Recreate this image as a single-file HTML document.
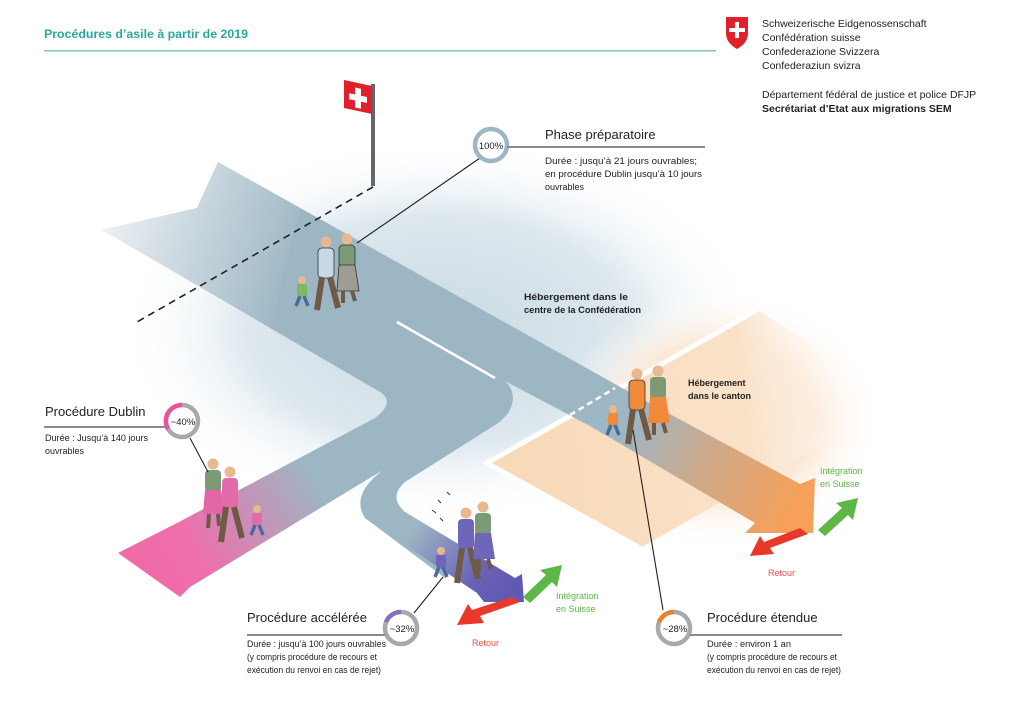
<!DOCTYPE html>
<html><head><meta charset="utf-8"><style>
html,body{margin:0;padding:0;background:#fff}
svg{display:block}
text{font-family:"Liberation Sans",sans-serif}
</style></head><body>
<svg width="1024" height="704" viewBox="0 0 1024 704" xmlns="http://www.w3.org/2000/svg">
<defs>
<radialGradient id="haze" cx="0.5" cy="0.5" r="0.5">
<stop offset="0" stop-color="#c9d9e2"/><stop offset="0.6" stop-color="#dde8ee"/><stop offset="1" stop-color="#ffffff" stop-opacity="0"/></radialGradient>
<radialGradient id="ohaze" cx="0.5" cy="0.5" r="0.5">
<stop offset="0" stop-color="#f8dcc0"/><stop offset="0.6" stop-color="#fbe9d8"/><stop offset="1" stop-color="#ffffff" stop-opacity="0"/></radialGradient>
<linearGradient id="gPink" x1="383" y1="430" x2="140" y2="570" gradientUnits="userSpaceOnUse">
<stop offset="0.3" stop-color="#9db6c4"/><stop offset="0.8" stop-color="#ee6fab"/><stop offset="1" stop-color="#f06aa8"/></linearGradient>
<linearGradient id="gPurp" x1="400" y1="500" x2="510" y2="590" gradientUnits="userSpaceOnUse">
<stop offset="0.2" stop-color="#9db6c4"/><stop offset="0.75" stop-color="#6a62b5"/><stop offset="1" stop-color="#6158b3"/></linearGradient>
<linearGradient id="gOr" x1="600" y1="410" x2="790" y2="515" gradientUnits="userSpaceOnUse">
<stop offset="0.15" stop-color="#9db6c4"/><stop offset="0.55" stop-color="#cfa98a"/><stop offset="1" stop-color="#f6a05a"/></linearGradient>
<linearGradient id="gDia" x1="490" y1="460" x2="860" y2="420" gradientUnits="userSpaceOnUse">
<stop offset="0" stop-color="#f8d8b6"/><stop offset="0.7" stop-color="#fae2c9"/><stop offset="1" stop-color="#ffffff" stop-opacity="0"/></linearGradient>
<linearGradient id="tailFade" x1="100" y1="200" x2="300" y2="260" gradientUnits="userSpaceOnUse">
<stop offset="0" stop-color="#fff" stop-opacity="0.85"/><stop offset="1" stop-color="#fff" stop-opacity="0"/></linearGradient>
</defs>

<!-- header -->
<text x="44" y="38" font-size="12" font-weight="bold" fill="#2aa8a0" textLength="204" lengthAdjust="spacingAndGlyphs">Procédures d’asile à partir de 2019</text>
<rect x="44" y="50" width="672" height="1.5" fill="#7ec8bf"/>
<path d="M726,17 h22 v16 q0,10 -11,16 q-11,-6 -11,-16 z" fill="#e0202a"/>
<rect x="735" y="22" width="4" height="16" fill="#fff"/><rect x="729" y="28" width="16" height="4" fill="#fff"/>
<g font-size="10.5" fill="#222">
<text x="762" y="27">Schweizerische Eidgenossenschaft</text>
<text x="762" y="41">Confédération suisse</text>
<text x="762" y="55">Confederazione Svizzera</text>
<text x="762" y="69">Confederaziun svizra</text>
<text x="762" y="98">Département fédéral de justice et police DFJP</text>
<text x="762" y="112" font-weight="bold">Secrétariat d’Etat aux migrations SEM</text>
</g>

<!-- haze -->
<ellipse cx="440" cy="330" rx="320" ry="190" fill="url(#haze)"/>
<ellipse cx="720" cy="420" rx="160" ry="130" fill="url(#ohaze)"/>
<!-- orange diamond -->
<polygon points="487,463 757,310 900,400 640,548" fill="url(#gDia)"/>
<polyline points="640,548 487,463 757,310" fill="none" stroke="#fff" stroke-width="5"/>

<!-- main blue band -->
<path d="M218,162 L640,398 L590,426 L505,381 C520,395 512,415 495,425 L405,482 Q388,497 405,512 L470,552 L445,578 L365,518 Q350,495 383,470 L250,548 L222,522 L375,418 Q396,402 380,392 L102,230 L197,208 Z" fill="#9db6c4"/>
<path d="M218,162 L300,208 L270,330 L102,230 L197,208 Z" fill="url(#tailFade)"/>
<!-- dublin -->
<path d="M375,418 L383,470 L190,587 L180,597 L118,553 L177,523 Z" fill="url(#gPink)"/>
<!-- accelerated -->
<path d="M405,512 L515,578 L522,574 L524,602 L484,602 L477,593 L365,518 Q360,512 375,500 Z" fill="url(#gPurp)"/>
<!-- orange arrow -->
<path d="M640,398 L800,484 L815,478 L813,533 L745,533 L755,523 L590,426 Z" fill="url(#gOr)"/>

<!-- lane lines -->
<line x1="397" y1="322" x2="495" y2="378" stroke="#fff" stroke-width="2.5"/>
<line x1="570" y1="415" x2="615" y2="388" stroke="#fff" stroke-width="2.5" stroke-dasharray="6,4"/>

<!-- small arrows -->
<polygon points="818,530 842,508 836,503 858,498 853,520 848,515 825,536" fill="#5db746"/>
<polygon points="808,534 770,548 774,554 750,556 760,536 764,542 800,528" fill="#e8382c"/>
<polygon points="523,597 546,575 540,570 562,565 557,587 552,582 530,603" fill="#5db746"/>
<polygon points="520,602 480,616 484,623 457,625 468,604 472,610 512,597" fill="#e8382c"/>

<!-- flag -->
<rect x="371" y="84" width="4" height="102" fill="#666"/>
<polygon points="344,80 372,86 372,114 344,108" fill="#e0202a"/>
<rect x="355" y="86" width="6" height="20" fill="#fff" transform="skewY(12) translate(0,-74)"/>
<rect x="349" y="93" width="18" height="6" fill="#fff" transform="skewY(12) translate(0,-74)"/>
<line x1="373" y1="187" x2="137" y2="322" stroke="#222" stroke-width="1.6" stroke-dasharray="7,5"/>

<!-- people groups -->
<g>
<g transform="translate(326,236)"><circle cx="0" cy="6" r="5.5" fill="#e8b890"/><rect x="-8" y="12" width="16" height="30" rx="4" fill="#c9d8e6" stroke="#333" stroke-width="0.8"/><path d="M-4,41 L-9,74 M4,41 L12,72" stroke="#6e5a45" stroke-width="6"/></g>
<g transform="translate(347,233)"><circle cx="0" cy="6" r="5.5" fill="#e8b890"/><rect x="-8" y="12" width="16" height="22" rx="4" fill="#7c9a76" stroke="#333" stroke-width="0.8"/><path d="M-8,32 L8,32 L12,58 L-10,58 Z" fill="#9e9d93" stroke="#333" stroke-width="0.8"/><path d="M-4,58 L-4,70 M5,58 L8,68" stroke="#6e5a45" stroke-width="4"/></g>
<g transform="translate(302,276)"><circle cx="0" cy="4" r="4" fill="#e8b890"/><rect x="-5" y="8" width="10" height="12" rx="2" fill="#7fb860"/><path d="M-2,20 L-6,30 M2,20 L6,30" stroke="#4a6b9a" stroke-width="3.5"/></g>
</g>
<g>
<g transform="translate(213,458)"><circle cx="0" cy="6" r="5.5" fill="#e8b890"/><rect x="-8" y="12" width="16" height="22" rx="4" fill="#7c9a76"/><path d="M-8,32 L8,32 L12,56 L-10,56 Z" fill="#e266a8"/><path d="M-4,56 L-5,70 M5,56 L6,68" stroke="#6e5a45" stroke-width="4"/></g>
<g transform="translate(230,466)"><circle cx="0" cy="6" r="5.5" fill="#e8b890"/><rect x="-8" y="12" width="16" height="30" rx="4" fill="#e46aa9"/><path d="M-4,41 L-9,76 M4,41 L12,72" stroke="#6e5a45" stroke-width="6"/></g>
<g transform="translate(257,505)"><circle cx="0" cy="4" r="4" fill="#e8b890"/><rect x="-5" y="8" width="10" height="12" rx="2" fill="#e46aa9"/><path d="M-2,20 L-6,30 M2,20 L6,30" stroke="#4a6b9a" stroke-width="3.5"/></g>
</g>
<g>
<g transform="translate(466,507)"><circle cx="0" cy="6" r="5.5" fill="#e8b890"/><rect x="-8" y="12" width="16" height="30" rx="4" fill="#6f65b9"/><path d="M-4,41 L-9,76 M4,41 L12,72" stroke="#6e5a45" stroke-width="6"/></g>
<g transform="translate(483,501)"><circle cx="0" cy="6" r="5.5" fill="#e8b890"/><rect x="-8" y="12" width="16" height="22" rx="4" fill="#7c9a76"/><path d="M-8,32 L8,32 L12,58 L-10,58 Z" fill="#6f65b9"/><path d="M-4,58 L-4,70 M5,58 L8,68" stroke="#6e5a45" stroke-width="4"/></g>
<g transform="translate(441,547)"><circle cx="0" cy="4" r="4" fill="#e8b890"/><rect x="-5" y="8" width="10" height="12" rx="2" fill="#6f65b9"/><path d="M-2,20 L-6,30 M2,20 L6,30" stroke="#4a6b9a" stroke-width="3.5"/></g>
<path d="M432,510 l4,3 M438,500 l3,3 M447,492 l3,3 M440,518 l3,3" stroke="#333" stroke-width="1"/>
</g>
<g>
<g transform="translate(637,368)"><circle cx="0" cy="6" r="5.5" fill="#e8b890"/><rect x="-8" y="12" width="16" height="30" rx="4" fill="#f08a3a" stroke="#333" stroke-width="0.8"/><path d="M-4,41 L-9,76 M4,41 L12,72" stroke="#6e5a45" stroke-width="6"/></g>
<g transform="translate(658,365)"><circle cx="0" cy="6" r="5.5" fill="#e8b890"/><rect x="-8" y="12" width="16" height="22" rx="4" fill="#7c9a76"/><path d="M-8,32 L8,32 L12,58 L-10,58 Z" fill="#f08a3a"/><path d="M-4,58 L-4,70 M5,58 L8,68" stroke="#6e5a45" stroke-width="4"/></g>
<g transform="translate(613,405)"><circle cx="0" cy="4" r="4" fill="#e8b890"/><rect x="-5" y="8" width="10" height="12" rx="2" fill="#f08a3a"/><path d="M-2,20 L-6,30 M2,20 L6,30" stroke="#4a6b9a" stroke-width="3.5"/></g>
</g>

<!-- leader lines -->
<g stroke="#222" stroke-width="1.1">
<line x1="480" y1="158" x2="357" y2="243"/>
<line x1="190" y1="438" x2="208" y2="472"/>
<line x1="414" y1="613" x2="443" y2="577"/>
<line x1="663" y1="610" x2="633" y2="430"/>
</g>

<!-- percentage circles -->
<g font-size="9.5" text-anchor="middle" fill="#222">
<circle cx="491" cy="145" r="16" fill="#fff" stroke="#9db6c4" stroke-width="4.5"/>
<text x="491" y="149">100%</text>
<circle cx="182" cy="421" r="16" fill="#fff" stroke="#a9a9a9" stroke-width="4.5"/>
<path d="M182,405 A16,16 0 0 0 168,429" fill="none" stroke="#e9539c" stroke-width="4.5"/>
<text x="183" y="425">~40%</text>
<circle cx="401" cy="628" r="16" fill="#fff" stroke="#a9a9a9" stroke-width="4.5"/>
<path d="M401,612 A16,16 0 0 0 386,622" fill="none" stroke="#8a6cc0" stroke-width="4.5"/>
<text x="402" y="632">~32%</text>
<circle cx="674" cy="628" r="16" fill="#fff" stroke="#a9a9a9" stroke-width="4.5"/>
<path d="M674,612 A16,16 0 0 0 659,622" fill="none" stroke="#f07f22" stroke-width="4.5"/>
<text x="675" y="632">~28%</text>
</g>

<!-- label rules -->
<g fill="#8a8a8a">
<rect x="507" y="146" width="198" height="2"/>
<rect x="44" y="426" width="122" height="2"/>
<rect x="247" y="634" width="138" height="2"/>
<rect x="690" y="634" width="152" height="2"/>
</g>

<!-- labels -->
<g fill="#222">
<text x="545" y="139" font-size="13">Phase préparatoire</text>
<g font-size="9">
<text x="545" y="164" textLength="152" lengthAdjust="spacingAndGlyphs">Durée : jusqu’à 21 jours ouvrables;</text>
<text x="545" y="177" textLength="157" lengthAdjust="spacingAndGlyphs">en procédure Dublin jusqu’à 10 jours</text>
<text x="545" y="190">ouvrables</text>
</g>
<g font-size="9" font-weight="bold">
<text x="524" y="300" textLength="104" lengthAdjust="spacingAndGlyphs">Hébergement dans le</text>
<text x="524" y="313" textLength="117" lengthAdjust="spacingAndGlyphs">centre de la Confédération</text>
<text x="688" y="386">Hébergement</text>
<text x="688" y="399">dans le canton</text>
</g>
<text x="45" y="416" font-size="13">Procédure Dublin</text>
<g font-size="9">
<text x="45" y="441" textLength="103" lengthAdjust="spacingAndGlyphs">Durée : Jusqu’à 140 jours</text>
<text x="45" y="454">ouvrables</text>
</g>
<text x="247" y="622" font-size="13">Procédure accélérée</text>
<g font-size="9">
<text x="247" y="647" textLength="139" lengthAdjust="spacingAndGlyphs">Durée : jusqu’à 100 jours ouvrables</text>
<text x="247" y="660" textLength="130" lengthAdjust="spacingAndGlyphs">(y compris procédure de recours et</text>
<text x="247" y="673" textLength="134" lengthAdjust="spacingAndGlyphs">exécution du renvoi en cas de rejet)</text>
</g>
<text x="707" y="622" font-size="13">Procédure étendue</text>
<g font-size="9">
<text x="707" y="647" textLength="84" lengthAdjust="spacingAndGlyphs">Durée : environ 1 an</text>
<text x="707" y="660" textLength="130" lengthAdjust="spacingAndGlyphs">(y compris procédure de recours et</text>
<text x="707" y="673" textLength="134" lengthAdjust="spacingAndGlyphs">exécution du renvoi en cas de rejet)</text>
</g>
</g>
<g font-size="9">
<text x="820" y="474" fill="#5db746">Intégration</text>
<text x="820" y="487" fill="#5db746">en Suisse</text>
<text x="556" y="599" fill="#5db746">Intégration</text>
<text x="556" y="612" fill="#5db746">en Suisse</text>
<text x="768" y="576" fill="#e8504a">Retour</text>
<text x="472" y="646" fill="#e8504a">Retour</text>
</g>
</svg>
</body></html>
